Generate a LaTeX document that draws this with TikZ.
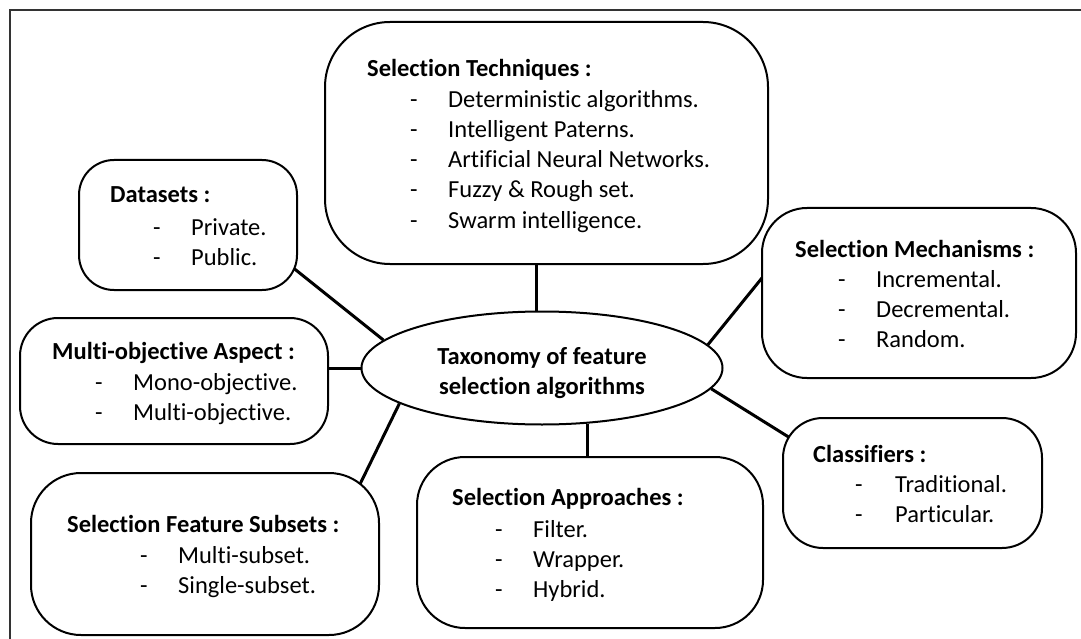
\documentclass[tikz,border=0pt]{standalone}
\usepackage{fontspec}
\setmainfont{Carlito}[Ligatures=NoCommon]
\usepackage{tikz}
\usetikzlibrary{shapes.geometric,backgrounds}
\tikzset{
  fsBox/.style={draw=black, line width=2pt, fill=white, inner sep=0pt},
  fsHub/.style={ellipse, draw=black, line width=2pt, fill=white, inner sep=0pt,
    align=center, font=\bfseries},
  fsLink/.style={draw=black, line width=3pt, shorten >=-30pt},
  fsHead/.style={anchor=base west, inner sep=0pt, font=\bfseries},
  fsItem/.style={anchor=base west, inner sep=0pt},
  fsFrame/.style={draw=black!80, line width=2.5pt}
}
% dash, then the entry at the tab stop
\newcommand{\fsdash}[1]{\makebox[38pt][l]{-}#1}

\begin{document}
\fontsize{24.5}{30}\selectfont
\begin{tikzpicture}[x=1pt,y=-1pt]
  \useasboundingbox (0,0) rectangle (1081,639);
  \draw[fsFrame] (10,639) -- (10,10) -- (1081,10);

  % central ellipse
  \node[fsHub, minimum width=361pt, minimum height=113pt] (tax) at (542,368)
    {\rule{0pt}{28pt}Taxonomy of feature\\selection algorithms};

  % the seven category boxes
  \node[fsBox, rounded corners=65pt, minimum width=443pt, minimum height=242pt] (st) at (546.5,143) {};
  \node[fsBox, rounded corners=35pt, minimum width=218pt, minimum height=130pt] (ds) at (188,225) {};
  \node[fsBox, rounded corners=45pt, minimum width=314pt, minimum height=170pt] (sm) at (919,293) {};
  \node[fsBox, rounded corners=38pt, minimum width=308pt, minimum height=126pt] (mo) at (174,381) {};
  \node[fsBox, rounded corners=50pt, minimum width=348pt, minimum height=162pt] (ss) at (205,554) {};
  \node[fsBox, rounded corners=48pt, minimum width=346pt, minimum height=171pt] (sa) at (590,542.5) {};
  \node[fsBox, rounded corners=40pt, minimum width=259pt, minimum height=130pt] (cl) at (912.5,483) {};

  % links, kept under the filled shapes
  \begin{scope}[on background layer]
    \draw[fsLink] (tax.95) -- (tax.95 |- st.south);
    \draw[fsLink] (tax.170) -- (ds.-23);
    \draw[fsLink] (tax.180) -- (tax.180 -| mo.east);
    \draw[fsLink] (tax.194) -- (ss.27);
    \draw[fsLink] (tax.-51) -- (tax.-51 |- sa.north);
    \draw[fsLink] (tax.-7) -- (cl.159);
    \draw[fsLink] (tax.8) -- (sm.175);
  \end{scope}

  % Selection Techniques
  \node[fsHead] (st-h) at (367,77) {Selection Techniques :};
  \node[fsItem] (st-1) at (410,108) {\fsdash{Deterministic algorithms.}};
  \node[fsItem] (st-2) at (410,138) {\fsdash{Intelligent Paterns.}};
  \node[fsItem] (st-3) at (410,168) {\fsdash{Artificial Neural Networks.}};
  \node[fsItem] (st-4) at (410,198) {\fsdash{Fuzzy \& Rough set.}};
  \node[fsItem] (st-5) at (410,228) {\fsdash{Swarm intelligence.}};

  % Datasets
  \node[fsHead] (ds-h) at (110,203) {Datasets :};
  \node[fsItem] (ds-1) at (153,235) {\fsdash{Private.}};
  \node[fsItem] (ds-2) at (153,265) {\fsdash{Public.}};

  % Selection Mechanisms
  \node[fsHead] (sm-h) at (795,257) {Selection Mechanisms :};
  \node[fsItem] (sm-1) at (838,287) {\fsdash{Incremental.}};
  \node[fsItem] (sm-2) at (838,317) {\fsdash{Decremental.}};
  \node[fsItem] (sm-3) at (838,347) {\fsdash{Random.}};

  % Multi-objective Aspect
  \node[fsHead] (mo-h) at (52,359) {Multi-objective Aspect :};
  \node[fsItem] (mo-1) at (95,390) {\fsdash{Mono-objective.}};
  \node[fsItem] (mo-2) at (95,420) {\fsdash{Multi-objective.}};

  % Selection Feature Subsets
  \node[fsHead] (ss-h) at (67,532) {Selection Feature Subsets :};
  \node[fsItem] (ss-1) at (140,563) {\fsdash{Multi-subset.}};
  \node[fsItem] (ss-2) at (140,593) {\fsdash{Single-subset.}};

  % Selection Approaches
  \node[fsHead] (sa-h) at (452,505) {Selection Approaches :};
  \node[fsItem] (sa-1) at (495,537) {\fsdash{Filter.}};
  \node[fsItem] (sa-2) at (495,567) {\fsdash{Wrapper.}};
  \node[fsItem] (sa-3) at (495,597) {\fsdash{Hybrid.}};

  % Classifiers
  \node[fsHead] (cl-h) at (813,462) {Classifiers :};
  \node[fsItem] (cl-1) at (855,492) {\makebox[40pt][l]{-}Traditional.};
  \node[fsItem] (cl-2) at (855,522) {\makebox[40pt][l]{-}Particular.};
\end{tikzpicture}
\end{document}
